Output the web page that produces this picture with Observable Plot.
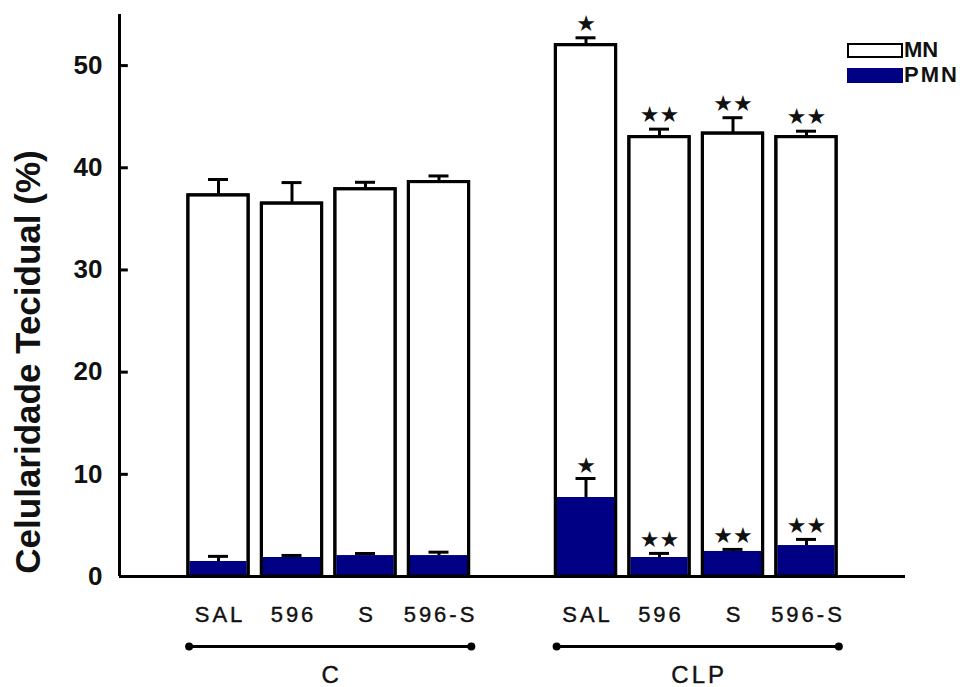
<!DOCTYPE html>
<html>
<head>
<meta charset="utf-8">
<script src="https://cdn.jsdelivr.net/npm/d3@7"></script>
<script src="https://cdn.jsdelivr.net/npm/@observablehq/plot@0.6"></script>
<style>
  html, body { margin: 0; padding: 0; background: #fff; }
  #chart { width: 976px; height: 687px; }
  svg { font-family: "Liberation Sans", Arial, sans-serif; }
</style>
</head>
<body>
<div id="chart"></div>
<script>
// Treatment labels and slot positions (slot 4 is the gap between the two groups)
const treatments = ["SAL", "596", "S", "596-S", "SAL", "596", "S", "596-S"];
const slots = [0, 1, 2, 3, 5, 6, 7, 8];
const groupNames = ["C", "CLP"];
const groupFirst = [0, 5];
const groupLast = [3, 8];

// Mononuclear cells (total bar height) and SEM
const mnMean = [37.3, 36.5, 37.9, 38.6, 52.0, 43.0, 43.35, 43.0];
const mnErr = [1.55, 2.05, 0.68, 0.6, 0.72, 0.78, 1.55, 0.58];
// Polymorphonuclear cells and SEM
const pmnMean = [1.47, 1.86, 2.05, 2.05, 7.73, 1.86, 2.45, 3.03];
const pmnErr = [0.5, 0.2, 0.2, 0.33, 1.86, 0.4, 0.2, 0.6];
// Significance marks
const mnSig = ["", "", "", "", "★", "★★", "★★", "★★"];
const pmnSig = ["", "", "", "", "★", "★★", "★★", "★★"];

const yTicks = [0, 10, 20, 30, 40, 50];

const rows = treatments.map((t, i) => ({
  label: t, pos: slots[i],
  mn: mnMean[i], mnErr: mnErr[i], mnSig: mnSig[i],
  pmn: pmnMean[i], pmnErr: pmnErr[i], pmnSig: pmnSig[i]
}));
const groups = groupNames.map((g, i) => ({name: g, from: groupFirst[i] - 0.4, to: groupLast[i] + 0.44}));
const groupEnds = groups.flatMap(g => [g.from, g.to]);

const xLo = -1.347, xHi = 9.347;
const half = 0.41;   // half bar width in slot units
const cap = 0.136;   // half error-cap width
const navy = "#000084";
const lw = 3;

const chart = Plot.plot({
  width: 976,
  height: 687,
  marginLeft: 119,
  marginRight: 71,
  marginTop: 14,
  marginBottom: 111,
  x: {domain: [xLo, xHi], axis: null},
  y: {domain: [0, 55], axis: null},
  marks: [
    // MN bars (white, outlined)
    Plot.rect(rows, {x1: d => d.pos - half, x2: d => d.pos + half, y1: d => 0, y2: "mn",
      fill: "white", stroke: "black", strokeWidth: lw}),
    // PMN bars (navy, inside the outline)
    Plot.rect(rows, {x1: d => d.pos - half, x2: d => d.pos + half, y1: d => 0, y2: "pmn",
      fill: navy, insetLeft: 1.5, insetRight: 1.5}),
    // outline again over the navy fill
    Plot.rect(rows, {x1: d => d.pos - half, x2: d => d.pos + half, y1: d => 0, y2: "mn",
      fill: "none", stroke: "black", strokeWidth: lw}),
    // MN error bars
    Plot.ruleX(rows, {x: "pos", y1: "mn", y2: d => d.mn + d.mnErr, stroke: "black", strokeWidth: lw}),
    Plot.ruleY(rows, {y: d => d.mn + d.mnErr, x1: d => d.pos - cap, x2: d => d.pos + cap, stroke: "black", strokeWidth: lw}),
    // PMN error bars
    Plot.ruleX(rows, {x: "pos", y1: "pmn", y2: d => d.pmn + d.pmnErr, stroke: "black", strokeWidth: lw}),
    Plot.ruleY(rows, {y: d => d.pmn + d.pmnErr, x1: d => d.pos - cap, x2: d => d.pos + cap, stroke: "black", strokeWidth: lw}),
    // significance stars
    Plot.text(rows, {x: "pos", y: d => d.mn + d.mnErr, text: "mnSig", dy: -14,
      fontSize: 22, fontFamily: "DejaVu Sans", fill: "#111"}),
    Plot.text(rows, {x: "pos", y: d => d.pmn + d.pmnErr, text: "pmnSig", dy: -13,
      fontSize: 22, fontFamily: "DejaVu Sans", fill: "#111"}),
    // axes lines
    Plot.ruleY([0], {stroke: "black", strokeWidth: lw}),
    Plot.ruleX([xLo], {stroke: "black", strokeWidth: lw}),
    // y ticks (pointing inward) and labels
    Plot.ruleY(yTicks, {y: d => d, x1: () => xLo, x2: () => xLo + 0.12, stroke: "black", strokeWidth: lw}),
    Plot.text(yTicks, {x: () => xLo, y: d => d, text: d => String(d), textAnchor: "end", dx: -17,
      fontSize: 26, fontWeight: "bold", fill: "#111"}),
    // treatment labels
    Plot.text(rows, {x: "pos", y: () => 0, text: "label", dy: 38, dx: 1.5, fontSize: 22,
      fill: "#111", stroke: "#111", strokeWidth: 0.4, ariaDescription: "treatment-labels"}),
    // group brackets
    Plot.link(groups, {x1: "from", x2: "to", y1: () => 0, y2: () => 0, dy: 70, stroke: "black", strokeWidth: lw}),
    Plot.dot(groupEnds, {x: d => d, y: () => 0, dy: 70, r: 4, fill: "black"}),
    Plot.text(groups, {x: d => (d.from + d.to) / 2, y: () => 0, text: "name", dy: 99, dx: 1.5, fontSize: 24,
      fill: "#111", stroke: "#111", strokeWidth: 0.4, ariaDescription: "group-labels"})
  ]
});

const svg = d3.select(chart);
svg.selectAll('g[aria-description="treatment-labels"] text').style("letter-spacing", "3px");
svg.selectAll('g[aria-description="group-labels"] text').style("letter-spacing", "3px");

// y-axis title
svg.append("text")
  .attr("transform", "translate(40,362) rotate(-90)")
  .attr("text-anchor", "middle")
  .attr("font-size", 35)
  .attr("font-weight", "bold")
  .attr("fill", "#111")
  .text("Celularidade Tecidual (%)");

// legend
const legend = svg.append("g").attr("text-anchor", "start");
legend.append("rect").attr("x", 848).attr("y", 44).attr("width", 54).attr("height", 13)
  .attr("fill", "white").attr("stroke", "black").attr("stroke-width", 2);
legend.append("rect").attr("x", 847).attr("y", 68).attr("width", 56).attr("height", 15)
  .attr("fill", navy);
legend.append("text").attr("x", 904).attr("y", 57).attr("font-size", 22).attr("font-weight", "bold")
  .attr("fill", "#111").text("MN");
legend.append("text").attr("x", 904).attr("y", 82).attr("font-size", 22).attr("font-weight", "bold")
  .attr("letter-spacing", "2px").attr("fill", "#111").text("PMN");

document.getElementById("chart").appendChild(chart);
</script>
</body>
</html>
